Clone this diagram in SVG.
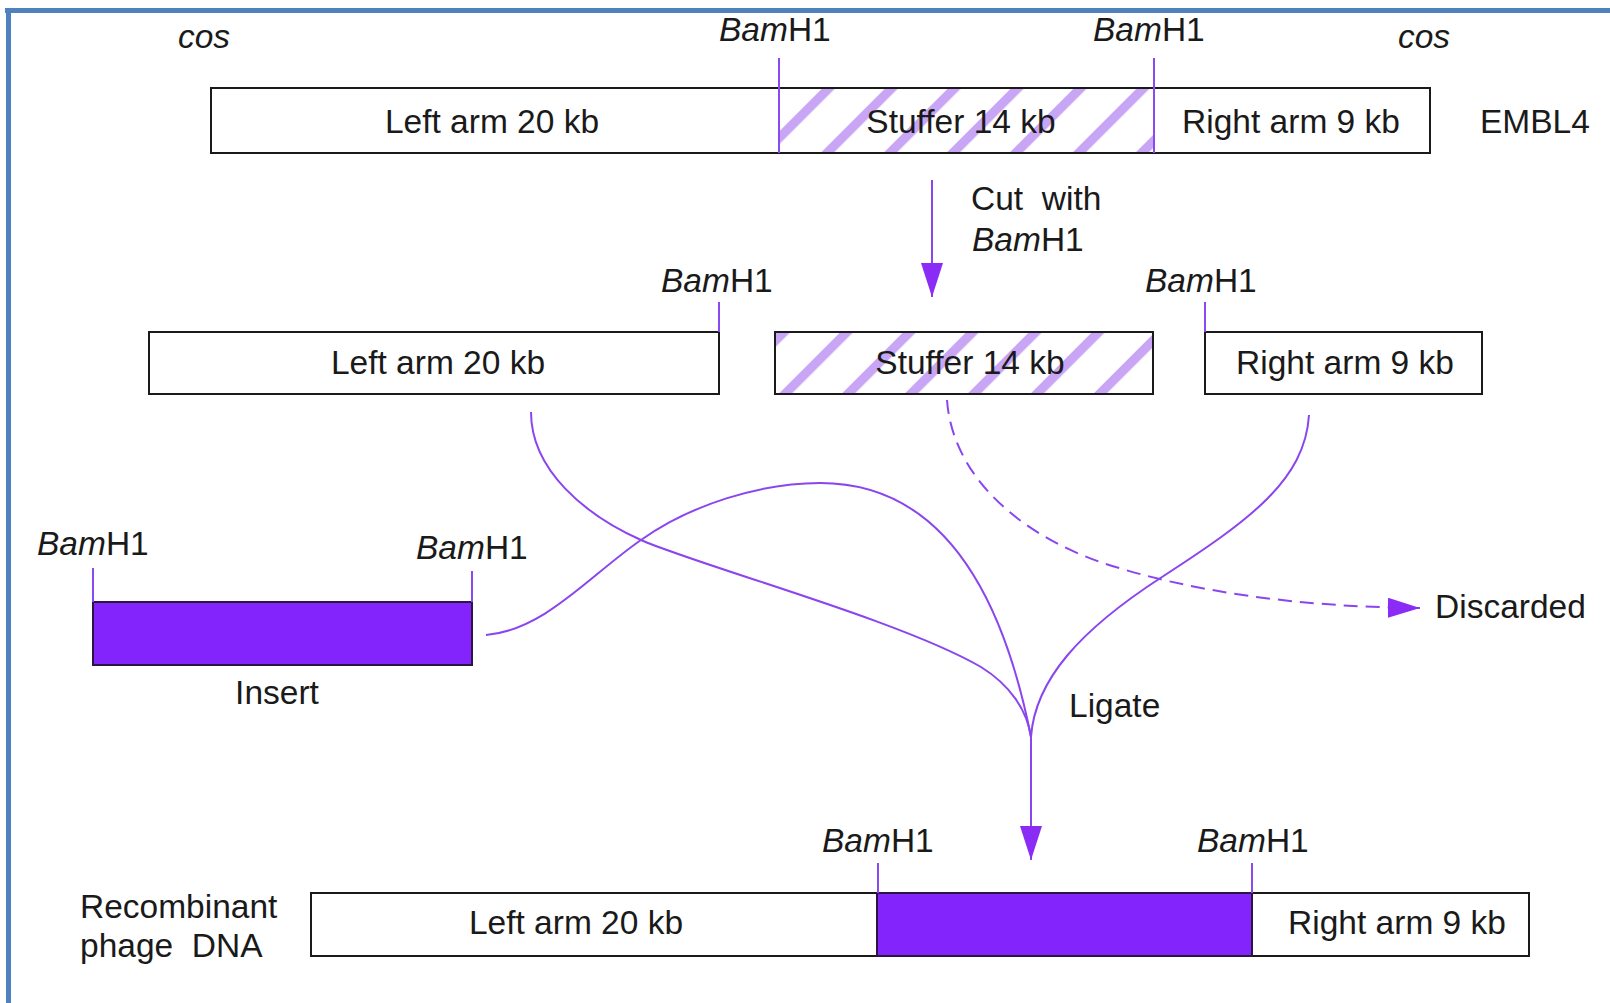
<svg xmlns="http://www.w3.org/2000/svg" width="1610" height="1003" viewBox="0 0 1610 1003">
<style>
text{font-family:"Liberation Sans",Arial,Helvetica,sans-serif;font-size:33.5px;fill:#1a1a1a;white-space:pre}
.i{font-style:italic}
.m{text-anchor:middle}
.box{fill:#fff;stroke:#1a1a1a;stroke-width:2}
.ins{fill:#8424fc;stroke:#2a1640;stroke-width:2}
.tick{stroke:#8a4af2;stroke-width:2;fill:none}
.conn{stroke:#8a46ee;stroke-width:2;fill:none}
.dash{stroke-dasharray:14 8}
.frame{fill:#4f81bd}
</style>
<defs>
<pattern id="hatchTop" patternUnits="userSpaceOnUse" width="44.5" height="20" patternTransform="translate(821.5,152) rotate(45)">
<rect x="0" y="0" width="9.2" height="20" fill="#c8a6f5"/>
</pattern>
<pattern id="hatchMid" patternUnits="userSpaceOnUse" width="44.5" height="20" patternTransform="translate(778.5,394) rotate(45)">
<rect x="0" y="0" width="9.2" height="20" fill="#c8a6f5"/>
</pattern>
<marker id="ah" viewBox="0 0 32 20" refX="32" refY="10" markerWidth="32" markerHeight="20" markerUnits="userSpaceOnUse" orient="auto">
<path d="M0,0 L32,10 L0,20 z" fill="#8a2cf5"/>
</marker>
<marker id="ahv" viewBox="0 0 34 22" refX="34" refY="11" markerWidth="34" markerHeight="22" markerUnits="userSpaceOnUse" orient="auto">
<path d="M0,0 L34,11 L0,22 z" fill="#8a2cf5"/>
</marker>
</defs>

<g id="frame">
<rect class="frame" x="5" y="8" width="1605" height="5"/>
<rect class="frame" x="6" y="8" width="5" height="995"/>
</g>

<g id="embl4">
<rect class="box" x="211" y="88" width="1219" height="65"/>
<rect x="779" y="89" width="375" height="63" fill="url(#hatchTop)"/>
<line class="tick" x1="779" y1="58" x2="779" y2="153"/>
<line class="tick" x1="1154" y1="58" x2="1154" y2="153"/>
<text x="204" y="48" class="i m">cos</text>
<text x="1424" y="48" class="i m">cos</text>
<text x="719" y="41"><tspan class="i">Bam</tspan>H1</text>
<text x="1093" y="41"><tspan class="i">Bam</tspan>H1</text>
<text x="492" y="133" class="m">Left arm 20 kb</text>
<text x="961" y="133" class="m">Stuffer 14 kb</text>
<text x="1291" y="133" class="m">Right arm 9 kb</text>
<text x="1480" y="133">EMBL4</text>
</g>

<g id="cut-label">
<text x="971" y="210" xml:space="preserve">Cut  with</text>
<text x="972" y="251"><tspan class="i">Bam</tspan>H1</text>
</g>

<g id="left-arm">
<rect class="box" x="149" y="332" width="570" height="62"/>
<line class="tick" x1="719" y1="302" x2="719" y2="332"/>
<text x="661" y="292"><tspan class="i">Bam</tspan>H1</text>
<text x="438" y="374" class="m">Left arm 20 kb</text>
</g>

<g id="stuffer">
<rect class="box" x="775" y="332" width="378" height="62"/>
<rect x="776" y="333" width="376" height="60" fill="url(#hatchMid)"/>
<rect x="775" y="332" width="378" height="62" fill="none" stroke="#1a1a1a" stroke-width="2"/>
<text x="970" y="374" class="m">Stuffer 14 kb</text>
</g>

<g id="right-arm">
<rect class="box" x="1205" y="332" width="277" height="62"/>
<line class="tick" x1="1205" y1="302" x2="1205" y2="332"/>
<text x="1145" y="292"><tspan class="i">Bam</tspan>H1</text>
<text x="1345" y="374" class="m">Right arm 9 kb</text>
</g>

<g id="insert">
<rect class="ins" x="93" y="602" width="379" height="63"/>
<line class="tick" x1="93" y1="568" x2="93" y2="602"/>
<line class="tick" x1="472" y1="571" x2="472" y2="602"/>
<text x="37" y="555"><tspan class="i">Bam</tspan>H1</text>
<text x="416" y="559"><tspan class="i">Bam</tspan>H1</text>
<text x="277" y="704" class="m">Insert</text>
</g>

<g id="discarded">
<text x="1435" y="618">Discarded</text>
</g>

<g id="ligate">
<text x="1069" y="717">Ligate</text>
</g>

<g id="recombinant">
<rect class="box" x="311" y="893" width="1218" height="63"/>
<rect class="ins" x="877" y="893" width="375" height="63"/>
<line class="tick" x1="878" y1="863" x2="878" y2="893"/>
<line class="tick" x1="1252" y1="863" x2="1252" y2="893"/>
<text x="822" y="852"><tspan class="i">Bam</tspan>H1</text>
<text x="1197" y="852"><tspan class="i">Bam</tspan>H1</text>
<text x="576" y="934" class="m">Left arm 20 kb</text>
<text x="1397" y="934" class="m">Right arm 9 kb</text>
<text x="80" y="918">Recombinant</text>
<text x="80" y="957" xml:space="preserve">phage  DNA</text>
</g>

<g id="connectors">
<path class="conn" d="M932,180 L932,297" marker-end="url(#ahv)"/>
<path class="conn" d="M531,412 C531,470 585,515 641,540 C700,566 900,620 981,667 C1010,685 1027,710 1031,737"/>
<path class="conn" d="M486,635 C545,630 590,575 641,540 C690,505 760,483 820,483 C900,483 990,530 1031,737"/>
<path class="conn" d="M1309,415 C1305,480 1250,520 1162,577 C1080,630 1035,680 1031,737"/>
<path class="conn dash" d="M947,400 C952,470 1010,530 1100,562 C1190,592 1300,607 1420,608" marker-end="url(#ah)"/>
<path class="conn" d="M1031,737 L1031,860" marker-end="url(#ahv)"/>
</g>
</svg>
